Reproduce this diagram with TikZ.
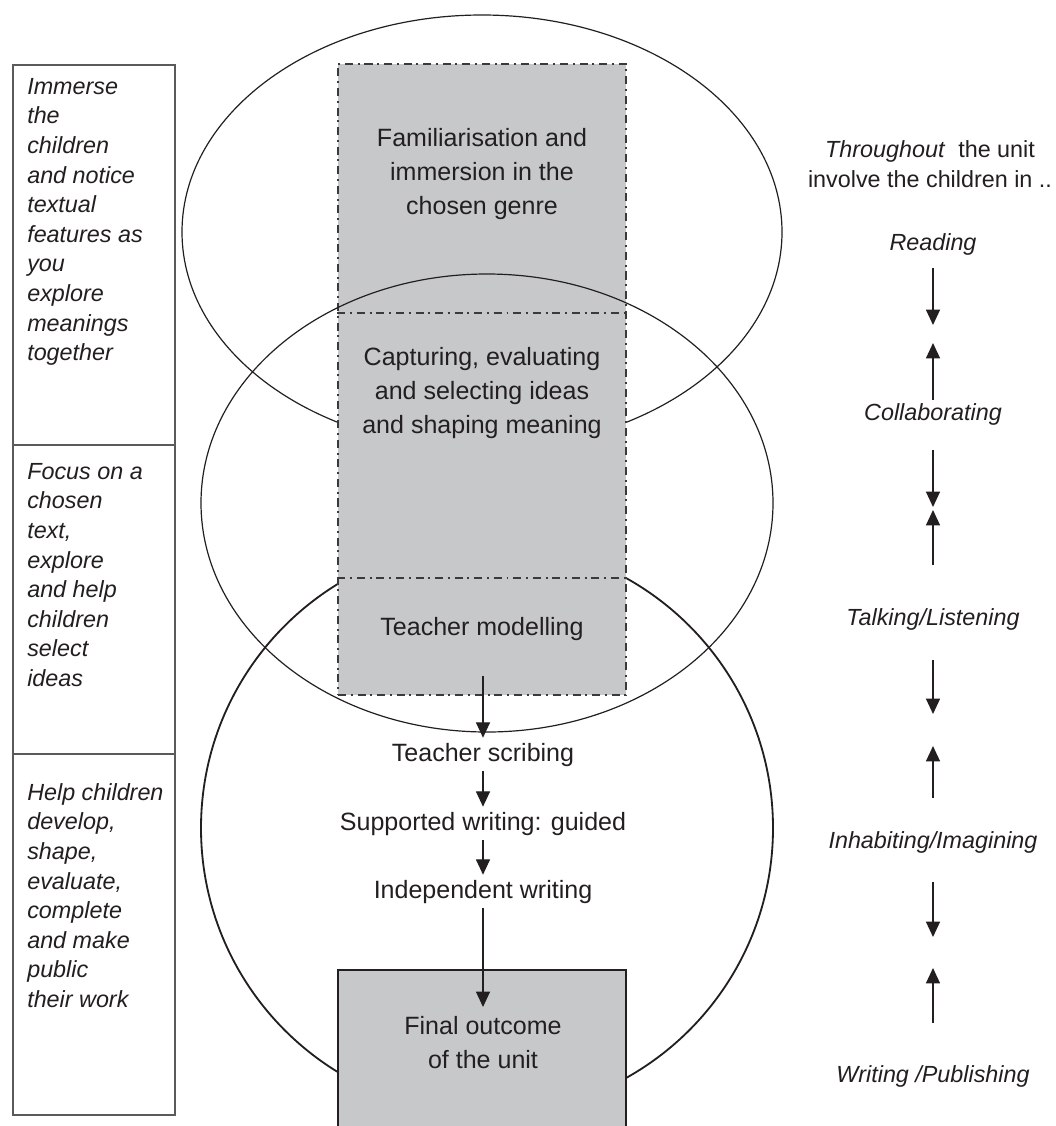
\documentclass[tikz,border=0pt]{standalone}
\usepackage{fontspec}
\setmainfont{Liberation Sans}
\usetikzlibrary{arrows.meta}
\definecolor{ink}{HTML}{231F20}
\definecolor{panel}{HTML}{C7C8CA}
\definecolor{frame}{HTML}{5A5A5A}
\definecolor{rule}{HTML}{3A3A3A}

\begin{document}
\begin{tikzpicture}[x=0.025cm, y=-0.025cm,
  stagetext/.style={font=\fontsize{17.8}{24.2}\selectfont, text=ink, align=center, inner sep=0pt},
  flowtext/.style={font=\fontsize{17.8}{24.2}\selectfont, text=ink, inner xsep=0pt, inner ysep=0.125cm,
                   text height=0.45cm, text depth=0.125cm, anchor=base},
  cue/.style={font=\fontsize{16.6}{21.05}\selectfont\itshape, text=ink, align=left, inner sep=0pt, anchor=north west},
  strand/.style={font=\fontsize{16.6}{21.3}\selectfont\itshape, text=ink, inner sep=0pt,
                 text height=0.425cm, text depth=0.125cm, anchor=base},
  flow/.style={draw=ink, line width=1.05pt, -{Triangle[length=11pt,width=10pt]}},
  ring/.style={draw=ink, line width=0.85pt},
  dashdot/.style={draw=rule, line width=0.9pt, dash pattern=on 5.7pt off 3.4pt on 1.4pt off 3.4pt},
  cuebox/.style={draw=frame, line width=1.3pt, minimum width=4.05cm, inner sep=0pt, anchor=north west}]

\clip (0,0) rectangle (1055,1126);
\fill[white] (0,0) rectangle (1055,1126);

% left-hand column of teaching cues
\node[cuebox, minimum height=9.5cm] (cueA) at (12,64) {};
\node[cuebox, minimum height=7.725cm] (cueB) at (12,444) {};
\node[cuebox, minimum height=9.025cm] (cueC) at (12,753) {};
\node[cue] (cueAtext) at (27,78) {Immerse\\the\\children\\and notice\\textual\\features as\\you\\explore\\meanings\\together};
\node[cue] (cueBtext) at (27,463) {Focus on a\\chosen\\text,\\explore\\and help\\children\\select\\ideas};
\node[cue] (cueCtext) at (27,783) {Help children\\develop,\\shape,\\evaluate,\\complete\\and make\\public\\their work};

% immersion ellipse and writing circle sit behind the stage column
\draw[ring] (482,232) ellipse [x radius=300, y radius=217];
\draw[ring, line width=1.3pt] (487,828) ellipse [x radius=286, y radius=286];

% stage column with dash-dot partitions
\node[draw=rule, fill=panel, line width=0.9pt, dash pattern=on 5.7pt off 3.4pt on 1.4pt off 3.4pt,
      minimum width=7.2cm, minimum height=15.775cm, inner sep=0pt] (stages) at (482,379.5) {};
\draw[dashdot] (stages.west |- 0,313) -- (stages.east |- 0,313);
\draw[dashdot] (stages.west |- 0,578) -- (stages.east |- 0,578);

% idea-shaping ellipse drawn over the column
\draw[ring] (487,503) ellipse [x radius=286, y radius=229];

% final outcome box
\node[draw=ink, fill=panel, line width=1pt, minimum width=7.2cm, minimum height=4.25cm, inner sep=0pt] (outcome) at (482,1055) {};

% stage labels
\node[stagetext, anchor=north] (immersion) at (482,128) {Familiarisation and\\immersion in the\\chosen genre};
\node[stagetext, anchor=north] (capturing) at (482,347) {Capturing, evaluating\\and selecting ideas\\and shaping meaning};
\node[flowtext] (modelling) at (482,635) {Teacher modelling};
\coordinate (handoff) at (483,676);

% writing sequence
\node[flowtext] (scribing) at (483,761) {Teacher scribing};
\node[flowtext] (supported) at (483,830) {Supported writing: guided};
\node[flowtext] (independent) at (483,898) {Independent writing};
\node[stagetext, anchor=north, inner ysep=0.225cm] (final) at (483,1007) {Final outcome\\of the unit};

\draw[flow] (handoff) -- (scribing.north);
\draw[flow] (scribing.south) -- (supported.north);
\draw[flow] (supported.south) -- (independent.north);
\draw[flow] (independent.south) -- (final.north);

% right-hand strands
\node[font=\fontsize{16.6}{21.3}\selectfont, text=ink, align=center, inner sep=0pt, anchor=north] (intro) at (930,140)
  {\textit{Throughout}\ \ the unit\\involve the children in ..};
\node[strand] (reading) at (933,250) {Reading};
\node[strand] (collab) at (933,420) {Collaborating};
\node[strand] (talking) at (933,625) {Talking/Listening};
\node[strand] (inhabit) at (933,848) {Inhabiting/Imagining};
\node[strand] (writing) at (933,1082) {Writing /Publishing};

\coordinate (d1) at (933,325); \coordinate (u1) at (933,343);
\coordinate (d2) at (933,507); \coordinate (u2) at (933,510);
\coordinate (d3) at (933,714); \coordinate (u3) at (933,746);
\coordinate (d4) at (933,937); \coordinate (u4) at (933,968);

\draw[flow, shorten <=0.325cm] (reading.south) -- (d1);
\draw[flow, shorten <=0.075cm] (collab.north) -- (u1);
\draw[flow, shorten <=0.625cm] (collab.south) -- (d2);
\draw[flow, shorten <=1.075cm] (talking.north) -- (u2);
\draw[flow, shorten <=0.75cm] (talking.south) -- (d3);
\draw[flow, shorten <=0.825cm] (inhabit.north) -- (u3);
\draw[flow, shorten <=0.725cm] (inhabit.south) -- (d4);
\draw[flow, shorten <=1.05cm] (writing.north) -- (u4);
\end{tikzpicture}
\end{document}
